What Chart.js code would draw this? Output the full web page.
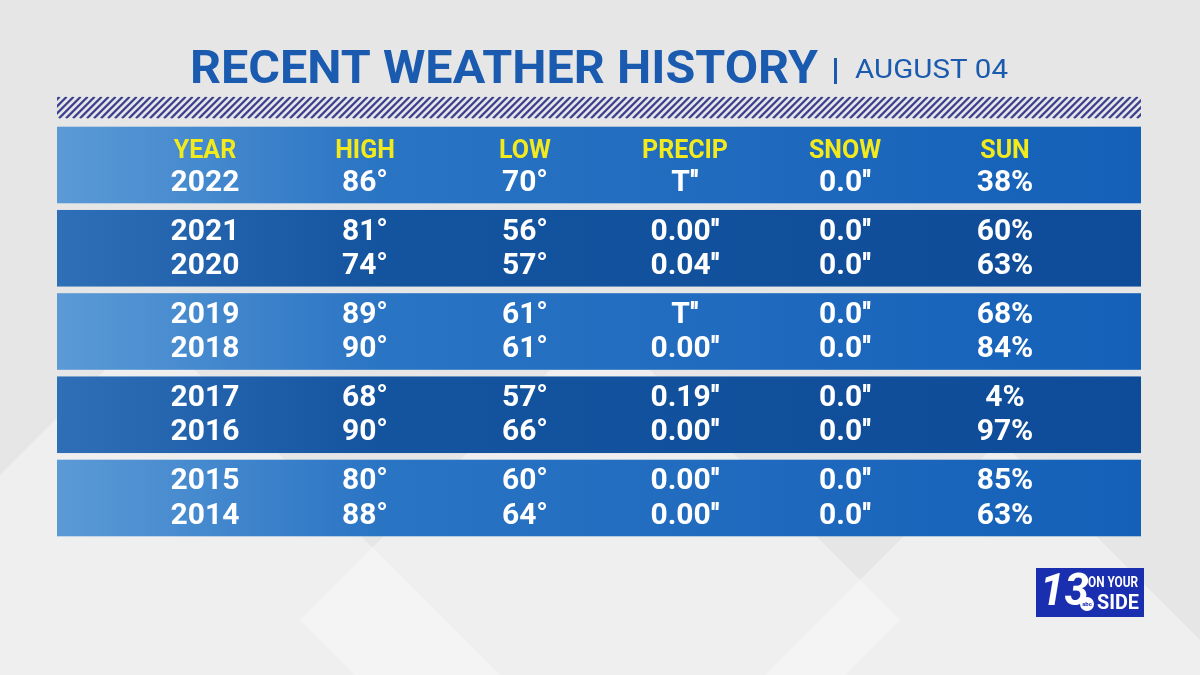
<!DOCTYPE html>
<html><head><meta charset="utf-8">
<script src="https://cdn.jsdelivr.net/npm/chart.js@4/dist/chart.umd.min.js"></script>
<style>html,body{margin:0;padding:0;background:#e6e6e6;}canvas{display:block}</style>
</head><body><canvas id="c" width="1200" height="675"></canvas>
<script>
const title = "RECENT WEATHER HISTORY";
const dateLabel = "AUGUST 04";
const headers = ["YEAR","HIGH","LOW","PRECIP","SNOW","SUN"];
const years = ["2022","2021","2020","2019","2018","2017","2016","2015","2014"];
const highs = ["86°","81°","74°","89°","90°","68°","90°","80°","88°"];
const lows = ["70°","56°","57°","61°","61°","57°","66°","60°","64°"];
const precip = ["T''","0.00''","0.04''","T''","0.00''","0.19''","0.00''","0.00''","0.00''"];
const snow = ["0.0''","0.0''","0.0''","0.0''","0.0''","0.0''","0.0''","0.0''","0.0''"];
const sun = ["38%","60%","63%","68%","84%","4%","97%","85%","63%"];
const rowPanel = [0,1,1,2,2,3,3,4,4];
const rowSub = [1,0,1,0,1,0,1,0,1];
const columns = [years,highs,lows,precip,snow,sun];

const SUB = 0.205;
function yVal(p,s){return p + (s===0? -SUB : SUB);}

const pts=[];
columns.forEach((col,ci)=>col.forEach((v,ri)=>pts.push({x:ci,y:yVal(rowPanel[ri],rowSub[ri]),t:v})));

function fitText(ctx,t,x,y,w){const m=ctx.measureText(t).width;ctx.save();ctx.translate(x,y);ctx.scale(w/m,1);ctx.fillText(t,0,0);ctx.restore();}

const tablePlugin={
 id:'table',
 beforeDatasetsDraw(chart){
  const ctx=chart.ctx,xs=chart.scales.x,ys=chart.scales.y;
  ctx.save();
  ctx.fillStyle='#e6e6e6';ctx.fillRect(0,0,1200,675);
  ctx.fillStyle='rgba(255,255,255,0.35)';
  [[150,675,350],[600,620,300],[1000,700,260]].forEach(([cx,cy,r])=>{ctx.beginPath();ctx.moveTo(cx,cy-r);ctx.lineTo(cx+r,cy);ctx.lineTo(cx,cy+r);ctx.lineTo(cx-r,cy);ctx.closePath();ctx.fill();});
  const L=xs.getPixelForValue(-0.925), R=xs.getPixelForValue(5.85);
  const hy0=ys.getPixelForValue(-0.82), hy1=ys.getPixelForValue(-0.56);
  ctx.save();ctx.beginPath();ctx.rect(L,hy0,R-L,hy1-hy0);ctx.clip();
  ctx.strokeStyle='#3b3f8f';ctx.lineWidth=2.2;
  for(let x=L-40;x<R+40;x+=7){ctx.beginPath();ctx.moveTo(x,hy1);ctx.lineTo(x+(hy1-hy0),hy0);ctx.stroke();}
  ctx.restore();
  for(let p=0;p<5;p++){
   const t=ys.getPixelForValue(p-0.46), b=ys.getPixelForValue(p+0.46);
   const g=ctx.createLinearGradient(L,0,R,0);
   if(p%2===0){g.addColorStop(0,'#5b9ad6');g.addColorStop(0.3,'#2a74c4');g.addColorStop(1,'#1460b8');}
   else{g.addColorStop(0,'#2f6fb8');g.addColorStop(0.3,'#14549f');g.addColorStop(1,'#0e4b98');}
   ctx.fillStyle=g;ctx.fillRect(L,t,R-L,b-t);
  }
  ctx.textBaseline='middle';
  ctx.fillStyle='#1a5bb0';ctx.font='bold 46px Roboto';ctx.textAlign='left';
  fitText(ctx,title,190,71,628);
  ctx.fillRect(834,58,3,26);
  ctx.font='26px Roboto';fitText(ctx,dateLabel,855,71,153);
  ctx.textAlign='center';ctx.fillStyle='#f2ea1c';ctx.font='bold 25px Roboto';
  headers.forEach((h,i)=>ctx.fillText(h,xs.getPixelForValue(i),ys.getPixelForValue(-SUB)+4));
  ctx.fillStyle='#ffffff';ctx.font='bold 30px Roboto';
  pts.forEach(p=>ctx.fillText(p.t,xs.getPixelForValue(p.x),ys.getPixelForValue(p.y)+1));
  ctx.fillStyle='#1a2fb0';ctx.fillRect(1036,568,108,49);
  ctx.fillStyle='#fff';ctx.font='italic bold 44px Roboto';ctx.textAlign='left';ctx.fillText('13',1040,594);
  ctx.font='bold 14px Roboto';fitText(ctx,'ON YOUR',1088,583,50);
  ctx.font='bold 20px Roboto';fitText(ctx,'SIDE',1097,604,42);
  ctx.beginPath();ctx.arc(1087,604,7,0,Math.PI*2);ctx.fill();
  ctx.fillStyle='#1a2fb0';ctx.font='bold 6px Roboto';ctx.textAlign='center';ctx.fillText('abc',1087,604);
  ctx.restore();
 }
};

new Chart(document.getElementById('c'),{
 type:'scatter',
 data:{datasets:[{data:pts,pointRadius:0,pointHoverRadius:0}]},
 options:{responsive:false,animation:false,devicePixelRatio:1,
  layout:{padding:0},
  plugins:{legend:{display:false},tooltip:{enabled:false}},
  scales:{
   x:{type:'linear',display:false,min:-205/160,max:(1200-205)/160},
   y:{type:'linear',display:false,reverse:true,min:-165/83.25,max:(675-165)/83.25}
  }},
 plugins:[tablePlugin]
});
</script></body></html>
